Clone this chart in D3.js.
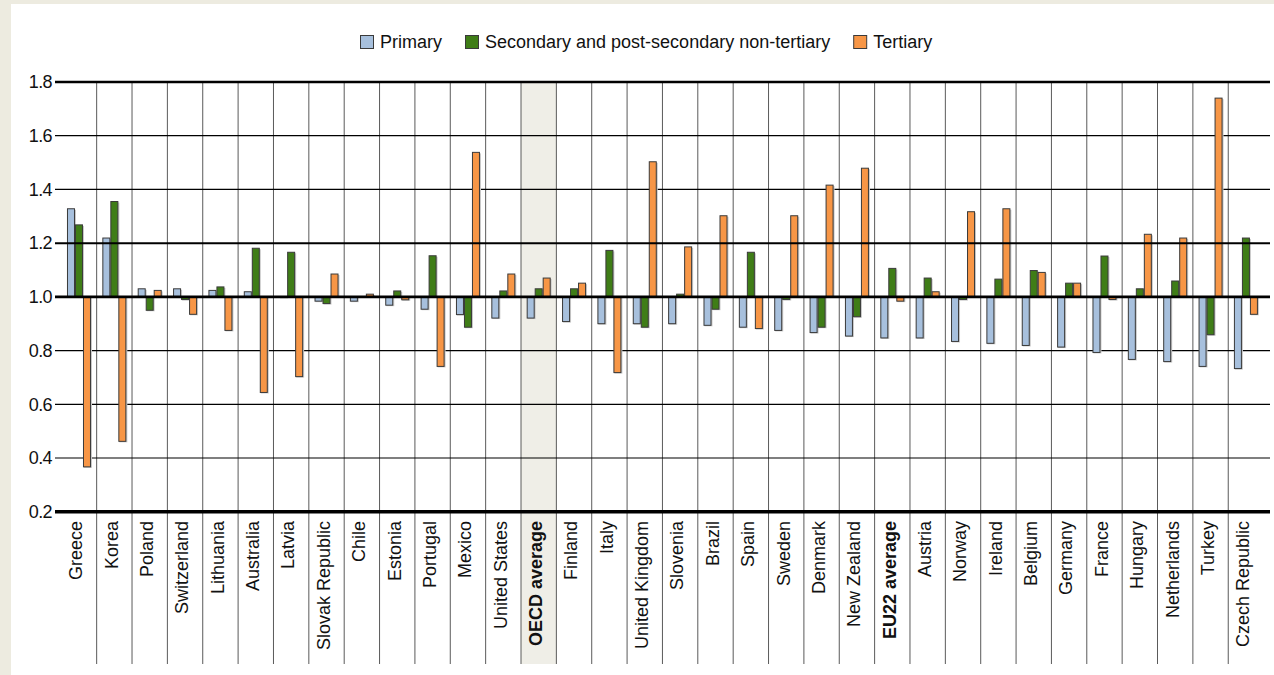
<!DOCTYPE html>
<html>
<head>
<meta charset="utf-8">
<script src="https://cdn.jsdelivr.net/npm/d3@7"></script>
<style>
  html, body { margin: 0; padding: 0; background: #fff; }
  svg { display: block; font-family: "Liberation Sans", Arial, sans-serif; }
</style>
</head>
<body>
<svg id="chart" width="1274" height="675"></svg>
<script>
const categories = ["Greece","Korea","Poland","Switzerland","Lithuania","Australia","Latvia","Slovak Republic","Chile","Estonia","Portugal","Mexico","United States","OECD average","Finland","Italy","United Kingdom","Slovenia","Brazil","Spain","Sweden","Denmark","New Zealand","EU22 average","Austria","Norway","Ireland","Belgium","Germany","France","Hungary","Netherlands","Turkey","Czech Republic"];
const boldCategories = ["OECD average","EU22 average"];
const highlightCategory = "OECD average";
const seriesNames = ["Primary","Secondary and post-secondary non-tertiary","Tertiary"];
const primary   = [1.328,1.219,1.030,1.030,1.024,1.019,0.998,0.984,0.984,0.969,0.954,0.934,0.921,0.921,0.908,0.900,0.900,0.900,0.894,0.887,0.875,0.867,0.854,0.847,0.847,0.834,0.827,0.819,0.813,0.793,0.767,0.759,0.741,0.733];
const secondary = [1.268,1.355,0.950,0.990,1.037,1.181,1.166,0.975,1.000,1.022,1.153,0.887,1.022,1.030,1.030,1.173,0.887,1.010,0.954,1.166,0.990,0.887,0.926,1.106,1.070,0.990,1.066,1.098,1.051,1.152,1.030,1.059,0.859,1.219];
const tertiary  = [0.367,0.462,1.024,0.935,0.875,0.644,0.703,1.085,1.010,0.989,0.741,1.538,1.085,1.070,1.051,0.718,1.503,1.186,1.302,0.882,1.302,1.416,1.479,0.984,1.019,1.317,1.328,1.091,1.051,0.990,1.233,1.219,1.740,0.935];
const yTicks = [0.2,0.4,0.6,0.8,1.0,1.2,1.4,1.6,1.8];
const thickTicks = {1.8: 2.6, 1.2: 2, 1.0: 2.6, 0.2: 3.6};
const colors = ["#a7c0dd","#3f7d17","#f79646"];

const seriesValues = [primary, secondary, tertiary];
const svg = d3.select("#chart");

// frame
svg.append("rect").attr("x",0).attr("y",0).attr("width",1274).attr("height",675).attr("fill","#edebe0");
svg.append("rect").attr("x",11).attr("y",4).attr("width",1263).attr("height",671).attr("fill","#ffffff");

const x = d3.scaleBand().domain(categories).range([61.3, 1263.6]).padding(0);
const xi = d3.scaleBand().domain(seriesNames).range([0, x.bandwidth()]).paddingInner(0).paddingOuter(0.71);
const y = d3.scaleLinear().domain([0.2, 1.8]).range([511.7, 82]);
const base = 1.0;

// highlight band
svg.append("rect")
  .attr("x", x(highlightCategory)).attr("y", y(1.8))
  .attr("width", x.bandwidth()).attr("height", 664 - y(1.8))
  .attr("fill", "#efeee7");

// vertical separators
svg.append("g").selectAll("line").data(categories.slice(1)).join("line")
  .attr("x1", d => x(d)).attr("x2", d => x(d))
  .attr("y1", y(1.8)).attr("y2", 664)
  .attr("stroke", "#5a5a5a").attr("stroke-width", 1);

// horizontal gridlines (thin first)
const gridG = svg.append("g");
gridG.selectAll("line").data(yTicks.filter(t => !thickTicks[t])).join("line")
  .attr("x1", 55).attr("x2", 1270)
  .attr("y1", d => y(d)).attr("y2", d => y(d))
  .attr("stroke", "#000").attr("stroke-width", 1.2);

// bars
const bars = [];
categories.forEach((c, i) => seriesNames.forEach((s, j) => bars.push({c, s, j, v: seriesValues[j][i]})));
const barG = svg.append("g");
barG.selectAll("rect.sh").data(bars).join("rect").attr("class","sh")
  .attr("x", d => x(d.c) + xi(d.s) + 1)
  .attr("y", d => Math.min(y(d.v), y(base)) + 1)
  .attr("width", xi.bandwidth())
  .attr("height", d => Math.abs(y(d.v) - y(base)))
  .attr("fill", "#c8c8c8");
barG.selectAll("rect.b").data(bars).join("rect").attr("class","b")
  .attr("x", d => x(d.c) + xi(d.s) + 0.5)
  .attr("y", d => Math.min(y(d.v), y(base)))
  .attr("width", xi.bandwidth() - 1)
  .attr("height", d => Math.abs(y(d.v) - y(base)))
  .attr("fill", d => colors[d.j])
  .attr("stroke", "#3a3a3a").attr("stroke-width", 1);

// thick lines on top
svg.append("g").selectAll("line").data(yTicks.filter(t => thickTicks[t])).join("line")
  .attr("x1", 55).attr("x2", 1270)
  .attr("y1", d => y(d)).attr("y2", d => y(d))
  .attr("stroke", "#000").attr("stroke-width", d => thickTicks[d]);

// y tick labels
svg.append("g").selectAll("text").data(yTicks).join("text")
  .attr("x", 52).attr("y", d => y(d)).attr("dy", "0.35em")
  .attr("text-anchor", "end").attr("font-size", 18).attr("fill", "#111")
  .attr("letter-spacing", "-0.6")
  .text(d => d3.format(".1f")(d));

// x labels
svg.append("g").selectAll("text").data(categories).join("text")
  .attr("transform", d => `translate(${x(d) + x.bandwidth()/2 - 3},521) rotate(-90)`)
  .attr("dy", "0.35em").attr("text-anchor", "end")
  .attr("font-size", 18).attr("fill", "#111")
  .attr("font-weight", d => boldCategories.includes(d) ? "bold" : "normal")
  .text(d => d);

// legend
const lg = svg.append("g");
let lx = 360;
seriesNames.forEach((s, j) => {
  lg.append("rect").attr("x", lx + 0.5).attr("y", 35.5).attr("width", 13).attr("height", 13)
    .attr("fill", colors[j]).attr("stroke", "#3a3a3a").attr("stroke-width", 1);
  const t = lg.append("text").attr("x", lx + 20).attr("y", 42).attr("dy", "0.35em")
    .attr("font-size", 18).attr("fill", "#111").text(s);
  lx += 20 + t.node().getComputedTextLength() + 23;
});
</script>
</body>
</html>
